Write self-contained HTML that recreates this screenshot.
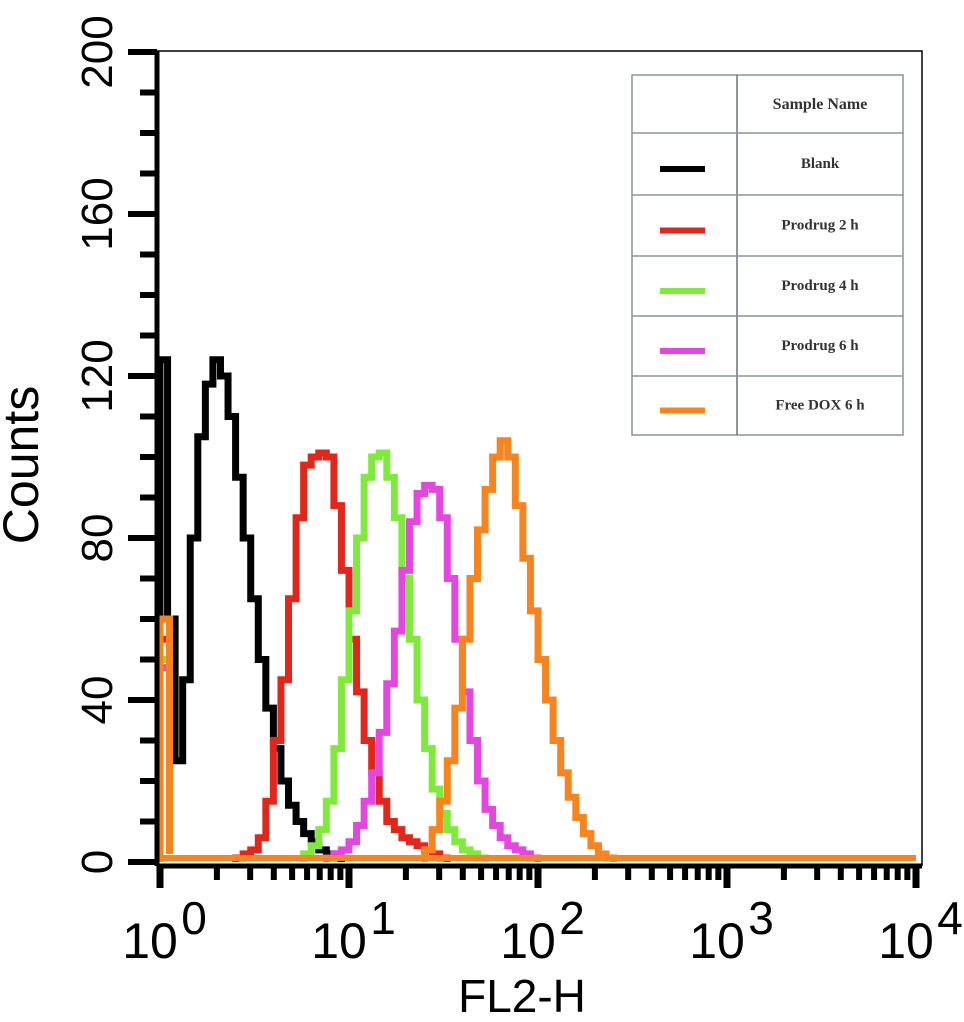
<!DOCTYPE html>
<html><head><meta charset="utf-8"><style>
body{margin:0;background:#fff;}
svg{display:block;font-family:"Liberation Sans",Arial,sans-serif;}
</style></head><body>
<svg id="c" width="964" height="1022" viewBox="0 0 964 1022">
<g id="plot"></g>
<g id="axes"></g>
<g id="legend">
<rect x="632" y="75" width="271" height="360" fill="#fff" stroke="#8a949c" stroke-width="1.5"/>
<line x1="737" y1="75" x2="737" y2="435" stroke="#6a747c" stroke-width="1.5"/>
</g>
<text x="38" y="465" font-size="50" text-anchor="middle" transform="rotate(-90 38 465)">Counts</text>
<text x="522" y="1012" font-size="46" text-anchor="middle">FL2-H</text>
</svg>
<script>
const yTicks=[0,40,80,120,160,200];
const xDecades=[0,1,2,3,4];
const binStep=0.04;
const blankStart=0.0;
const blank=[124,60,25,45,80,105,118,124,120,110,95,80,65,50,38,28,20,14,10,7,5,3,2,1];
const red2hStart=0.40;
const red2h=[1,2,3,6,15,30,45,65,85,98,100,101,100,88,72,55,42,30,22,15,10,8,6,5,4,3,2,1];
const green4hStart=0.76;
const green4h=[2,4,8,15,28,45,62,80,95,100,101,95,85,70,55,40,28,18,12,8,5,3,2,1];
const magenta6hStart=0.88;
const magenta6h=[1,2,3,5,9,15,22,32,44,57,72,84,91,93,92,85,70,55,42,30,20,13,9,6,4,3,2,1];
const orangeStart=1.40;
const orange=[3,8,15,25,38,55,70,82,92,100,104,100,88,75,62,50,40,30,22,16,11,7,4,2,1];
const lowSpikes=[55,50,48,60];
const legendNames=["Blank","Prodrug 2 h","Prodrug 4 h","Prodrug 6 h","Free DOX 6 h"];
const colors=["#000","#e3261c","#80ea3c","#e447e0","#f7841f"];
const NS="http://www.w3.org/2000/svg";
const X=l=>160+189*l;
const Y=c=>862-4.05*c;
function mk(t,a,p){const e=document.createElementNS(NS,t);for(const k in a)e.setAttribute(k,a[k]);p.appendChild(e);return e;}
const plot=document.getElementById('plot'),axes=document.getElementById('axes'),leg=document.getElementById('legend');
function series(vals,start,color,name){
  let d="M"+X(start)+","+Y(0);
  vals.forEach((v,i)=>{const l=start+i*binStep;d+=" L"+X(l)+","+Y(v)+" L"+X(l+binStep)+","+Y(v);});
  d+=" L"+X(start+vals.length*binStep)+","+Y(0);
  const p=mk('path',{d:d,fill:"none",stroke:color,"stroke-width":7,"stroke-linejoin":"miter"},plot);
  
  
}
series(blank,blankStart,colors[0],'series-blank');
series(red2h,red2hStart,colors[1],'series-prodrug-2h');
series(green4h,green4hStart,colors[2],'series-prodrug-4h');
series(magenta6h,magenta6hStart,colors[3],'series-prodrug-6h');
series(orange,orangeStart,colors[4],'series-free-dox-6h');
lowSpikes.forEach((v,i)=>{
  const s=mk('path',{d:"M"+X(0)+","+Y(0)+" L"+X(0)+","+Y(v)+" L"+X(0.05)+","+Y(v)+" L"+X(0.05)+","+Y(2),fill:"none",stroke:colors[i+1],"stroke-width":7},plot);
  
  
});
const base=mk('line',{x1:X(0),y1:Y(1),x2:X(4),y2:Y(1),stroke:colors[4],"stroke-width":6},plot);


const fr=mk('path',{d:"M157,51 L922,51 L922,866 M157,51 L157,866 L922,866",fill:"none",stroke:"#000","stroke-width":1.5},axes);


mk('line',{x1:157,y1:51,x2:157,y2:866,stroke:"#000","stroke-width":5},axes);
mk('line',{x1:157,y1:866,x2:922,y2:866,stroke:"#000","stroke-width":5},axes);
for(let c=0;c<=200;c+=10){const maj=c%40===0;mk('line',{x1:maj?128:140,y1:Y(c),x2:157,y2:Y(c),stroke:"#000","stroke-width":6},axes);}
yTicks.forEach(v=>{
  const t=mk('text',{x:0,y:0,"font-size":44,"text-anchor":"middle",transform:"translate(112,"+Y(v)+") rotate(-90)"},axes);
  t.textContent=String(v);
  
  
});
xDecades.forEach(d=>{
  mk('line',{x1:X(d),y1:866,x2:X(d),y2:888,stroke:"#000","stroke-width":7},axes);
  if(d<4)for(let m=2;m<=9;m++){const x=X(d+Math.log10(m));mk('line',{x1:x,y1:866,x2:x,y2:880,stroke:"#000","stroke-width":6},axes);}
  const t=mk('text',{x:X(d)-10,y:958,"font-size":50,"text-anchor":"middle"},axes);
  t.textContent="10";
  
  
  const s=mk('text',{x:X(d)+34,y:934,"font-size":46,"text-anchor":"middle"},axes);
  s.textContent=String(d);
  
  
});
const rowsY=[133,195,256,316,376,435];
rowsY.slice(0,5).forEach(y=>mk('line',{x1:632,y1:y,x2:903,y2:y,stroke:"#8a949c","stroke-width":1.5},leg));
const h=mk('text',{x:820,y:109,"font-size":16,"font-family":"Liberation Serif,serif","font-weight":"bold","text-anchor":"middle",fill:"#333"},leg);
h.textContent="Sample Name";


legendNames.forEach((n,i)=>{
  const cy=(rowsY[i]+rowsY[i+1])/2;
  const ln=mk('line',{x1:660,y1:cy+5,x2:705,y2:cy+5,stroke:colors[i],"stroke-width":6},leg);
  
  
  const t=mk('text',{x:820,y:cy+4,"font-size":15,"font-family":"Liberation Serif,serif","font-weight":"bold","text-anchor":"middle",fill:"#333"},leg);
  t.textContent=n;
  
  
});
</script>
</body></html>
